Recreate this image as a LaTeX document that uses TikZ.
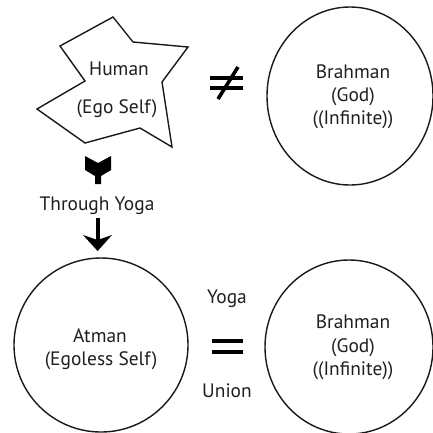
\documentclass[tikz,border=0pt]{standalone}
\usepackage{fontspec}
\setmainfont{PT Sans}
\begin{document}
\begin{tikzpicture}[x=1bp,y=-1bp,
  txt/.style={font=\fontsize{19.5}{23}\selectfont, text=black!88, inner sep=0pt, anchor=base},
  outl/.style={draw=black!90, line width=1.4bp},
  sym/.style={line width=3.6bp, black}]
\useasboundingbox (0,0) rectangle (433,432);
% star
\draw[outl, line join=miter] (60,46) -- (113,17) -- (133,42) -- (188,47) -- (162,82) -- (172,147) -- (140,128) -- (85,143) -- (37,109) -- (85,81) -- cycle;
\node[txt] (human) at (119,75) {Human};
\node[txt] (ego) at (117,113) {(Ego Self)};
% not equal
\draw[sym] (210,78) -- (243,78);
\draw[sym] (210,88) -- (243,88);
\draw[sym] (218,99) -- (238,67);
% top right circle
\coordinate (brtop) at (350,96);
\draw[outl] (brtop) ellipse [x radius=83bp, y radius=89bp];
\node[txt] (b1) at (353,78) {Brahman};
\node[txt] (b2) at (353,101) {(God)};
\node[txt] (b3) at (353,124) {((Infinite))};
% tail
\fill[black] (85,156) -- (98,163) -- (111,156) -- (111,170) -- (101,176) -- (101,184) -- (95,184) -- (95,176) -- (85,170) -- cycle;
\node[txt] (through) at (97,210) {Through Yoga};
% arrow
\fill[black] (95.6,218) rectangle (99.6,240);
\fill[black] (83,235) -- (97.6,251) -- (112,235) -- (97.6,240) -- cycle;
% bottom left circle
\coordinate (atman) at (101,345);
\draw[outl] (atman) circle [radius=87bp];
\node[txt] (a1) at (100,342) {Atman};
\node[txt] (a2) at (101,365) {(Egoless Self)};
% equal
\node[txt] (yoga) at (227,303) {Yoga};
\draw[sym] (212,341) -- (243,341);
\draw[sym] (212,352) -- (243,352);
\node[txt] (union) at (227,397) {Union};
% bottom right circle
\coordinate (brbot) at (349,347);
\draw[outl] (brbot) ellipse [x radius=84bp, y radius=87bp];
\node[txt] (c1) at (353,328) {Brahman};
\node[txt] (c2) at (353,352) {(God)};
\node[txt] (c3) at (353,375) {((Infinite))};
\end{tikzpicture}
\end{document}
